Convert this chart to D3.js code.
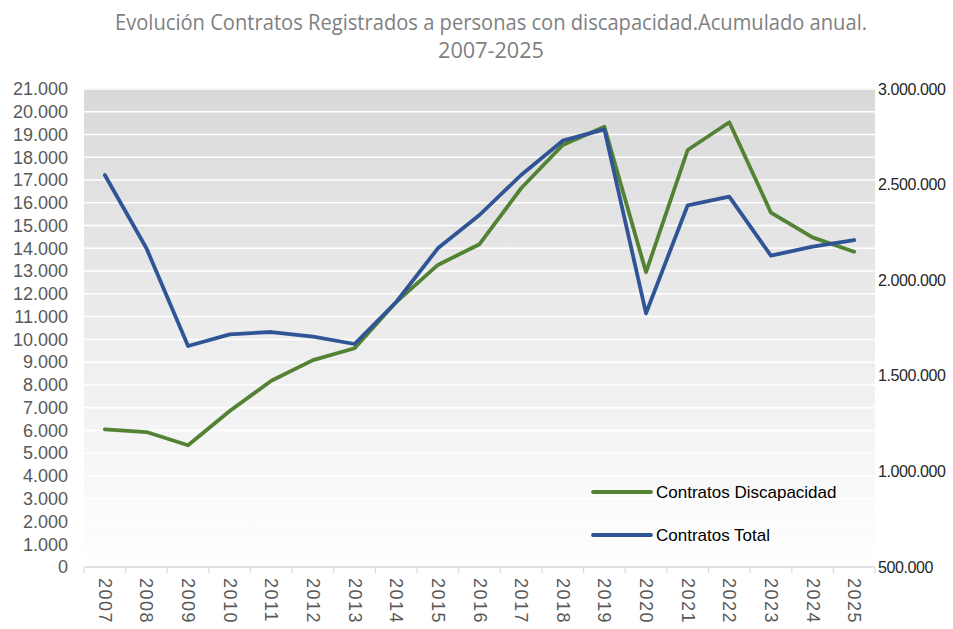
<!DOCTYPE html>
<html>
<head>
<meta charset="utf-8">
<script src="https://cdn.jsdelivr.net/npm/d3@7"></script>
<style>
  body { margin: 0; background: #fff; }
  svg { display: block; }
</style>
</head>
<body>
<div id="chart"></div>
<script>
// data
var years = ["2007","2008","2009","2010","2011","2012","2013","2014","2015","2016",
             "2017","2018","2019","2020","2021","2022","2023","2024","2025"];
var contratosDiscapacidad = [6050, 5930, 5350, 6850, 8180, 9090, 9610, 11640, 13270, 14180,
                             16640, 18540, 19340, 12950, 18320, 19540, 15570, 14480, 13850];
var contratosTotal = [2550000, 2167000, 1656000, 1717000, 1729000, 1704500, 1666300, 1886000, 2166800, 2341000,
                      2550200, 2729600, 2789200, 1826900, 2391700, 2436700, 2128100, 2175200, 2210200];
var leftTicks = d3.range(0, 21001, 1000);
var rightTicks = [500000, 1000000, 1500000, 2000000, 2500000, 3000000];
var titleLines = ["Evolución Contratos Registrados a personas con discapacidad.Acumulado anual.", "2007-2025"];

var width = 953, height = 629;
var plot = {left: 84, right: 875, top: 89, bottom: 567};

var fmt = function(v){ return d3.format(",")(v).replace(/,/g, "."); };

var svg = d3.select("#chart").append("svg")
    .attr("width", width)
    .attr("height", height);

// background gradient of plot area
var grad = svg.append("defs").append("linearGradient")
    .attr("id", "bg")
    .attr("x1", 0).attr("y1", 0).attr("x2", 0).attr("y2", 1);
grad.append("stop").attr("offset", "0%").attr("stop-color", "#d9d9d9");
grad.append("stop").attr("offset", "100%").attr("stop-color", "#ffffff");

var x = d3.scaleBand().domain(years).range([plot.left, plot.right]);
var yL = d3.scaleLinear().domain([0, 21000]).range([plot.bottom, plot.top]);
var yR = d3.scaleLinear().domain([500000, 3000000]).range([plot.bottom, plot.top]);

svg.append("rect")
    .attr("x", plot.left)
    .attr("y", plot.top - 1)
    .attr("width", plot.right - plot.left)
    .attr("height", plot.bottom - plot.top + 1)
    .attr("fill", "url(#bg)");

// gridlines
svg.append("g").selectAll("line")
    .data(leftTicks.slice(1))
    .enter().append("line")
    .attr("x1", plot.left).attr("x2", plot.right)
    .attr("y1", function(d){ return yL(d); })
    .attr("y2", function(d){ return yL(d); })
    .attr("stroke", "#ffffff")
    .attr("stroke-width", 1.5);

// title
svg.append("g").selectAll("text")
    .data(titleLines)
    .enter().append("text")
    .attr("x", 491)
    .attr("y", function(d,i){ return 30 + i * 28; })
    .attr("text-anchor", "middle")
    .attr("font-family", "'Liberation Sans Narrow', 'Open Sans', sans-serif")
    .attr("font-size", 21)
    .attr("fill", "#7f7f7f")
    .attr("textLength", function(d,i){ return i === 0 ? 752 : 106; })
    .attr("lengthAdjust", "spacingAndGlyphs")
    .text(function(d){ return d; });

// left axis
var leftAxis = svg.append("g")
    .attr("transform", "translate(" + plot.left + ",0)")
    .call(d3.axisLeft(yL).tickValues(leftTicks).tickSize(0).tickPadding(16).tickFormat(fmt));
leftAxis.select(".domain").remove();
leftAxis.selectAll("text")
    .attr("font-family", "'Liberation Sans', Arial, sans-serif")
    .attr("font-size", 18)
    .attr("fill", "#595959");

// right axis
var rightAxis = svg.append("g")
    .attr("transform", "translate(" + plot.right + ",0)")
    .call(d3.axisRight(yR).tickValues(rightTicks).tickSize(0).tickPadding(3).tickFormat(fmt));
rightAxis.select(".domain").remove();
rightAxis.selectAll("text")
    .attr("font-family", "'Liberation Sans', Arial, sans-serif")
    .attr("font-size", 16)
    .attr("letter-spacing", -0.4)
    .attr("fill", "#262626");

// bottom axis: baseline plus separators between categories
var bottom = svg.append("g");
bottom.append("line")
    .attr("x1", plot.left).attr("x2", plot.right)
    .attr("y1", plot.bottom).attr("y2", plot.bottom)
    .attr("stroke", "#d9d9d9").attr("stroke-width", 1.5);
bottom.selectAll(".sep")
    .data(years.concat(["end"]))
    .enter().append("line")
    .attr("x1", function(d,i){ return plot.left + i * x.step(); })
    .attr("x2", function(d,i){ return plot.left + i * x.step(); })
    .attr("y1", plot.bottom).attr("y2", plot.bottom + 6)
    .attr("stroke", "#d9d9d9").attr("stroke-width", 1.2);
bottom.selectAll(".yr")
    .data(years)
    .enter().append("text")
    .attr("transform", function(d){
        return "translate(" + (x(d) + x.bandwidth() / 2 - 6) + "," + (plot.bottom + 11) + ") rotate(90)";
    })
    .attr("font-family", "'Liberation Sans', Arial, sans-serif")
    .attr("font-size", 18)
    .attr("letter-spacing", 1.5)
    .attr("fill", "#595959")
    .text(function(d){ return d; });

// lines
var cx = function(d,i){ return x(years[i]) + x.bandwidth() / 2; };
var lineL = d3.line().x(cx).y(function(d){ return yL(d); });
var lineR = d3.line().x(cx).y(function(d){ return yR(d); });

svg.append("path")
    .datum(contratosDiscapacidad)
    .attr("d", lineL)
    .attr("fill", "none")
    .attr("stroke", "#548235")
    .attr("stroke-width", 3.8)
    .attr("stroke-linejoin", "round")
    .attr("stroke-linecap", "round");

svg.append("path")
    .datum(contratosTotal)
    .attr("d", lineR)
    .attr("fill", "none")
    .attr("stroke", "#2f5597")
    .attr("stroke-width", 3.8)
    .attr("stroke-linejoin", "round")
    .attr("stroke-linecap", "round");

// legend
var legend = [{name: "Contratos Discapacidad", color: "#548235"},
              {name: "Contratos Total", color: "#2f5597"}];
var lg = svg.append("g").selectAll("g")
    .data(legend)
    .enter().append("g")
    .attr("transform", function(d,i){ return "translate(593," + (492 + i * 43) + ")"; });
lg.append("line")
    .attr("x1", 0).attr("x2", 58)
    .attr("stroke", function(d){ return d.color; })
    .attr("stroke-width", 3.8)
    .attr("stroke-linecap", "round");
lg.append("text")
    .attr("x", 63)
    .attr("y", 6)
    .attr("font-family", "'Liberation Sans', Arial, sans-serif")
    .attr("font-size", 17)
    .attr("fill", "#000")
    .text(function(d){ return d.name; });
</script>
</body>
</html>
